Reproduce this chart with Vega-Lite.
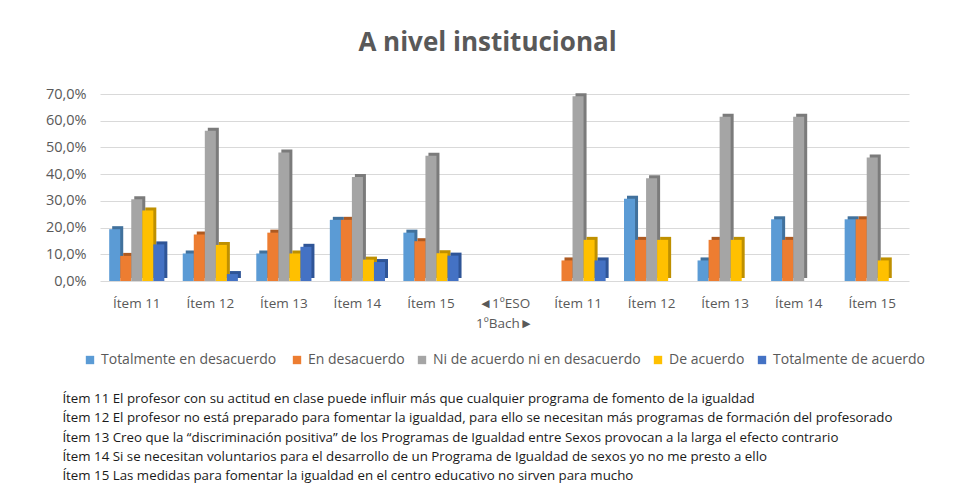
{
  "$schema": "https://vega.github.io/schema/vega-lite/v6.json",
  "background": "white",
  "padding": {"left": 45, "top": 30, "right": 5, "bottom": 5},
  "config": {
    "locale": {"number": {"decimal": ",", "thousands": ".", "grouping": [3], "currency": ["", " €"]}},
    "view": {"stroke": null},
    "font": "Open Sans",
    "legend": {"layout": {"bottom": {"anchor": "middle"}}}
  },
  "title": {
    "text": [
      "Ítem 11  El profesor con su actitud en clase puede influir más que cualquier programa de fomento de la igualdad",
      "Ítem 12  El profesor no está preparado para fomentar la igualdad, para ello se necesitan más programas de formación del profesorado",
      "Ítem 13  Creo que la “discriminación positiva” de los Programas de Igualdad entre Sexos  provocan a la larga el efecto contrario",
      "Ítem 14  Si se necesitan voluntarios para el desarrollo de un Programa de Igualdad de sexos yo no me presto a ello",
      "Ítem 15  Las medidas para fomentar la igualdad en el centro educativo no sirven para mucho"
    ],
    "orient": "bottom",
    "anchor": "start",
    "fontSize": 13.3,
    "fontWeight": "normal",
    "color": "#1a1a1a",
    "lineHeight": 19.3,
    "offset": 25,
    "dx": 17
  },
  "vconcat": [
    {
      "width": 809,
      "height": 187,
      "title": {
        "text": "A nivel institucional",
        "fontSize": 26,
        "fontWeight": "bold",
        "color": "#595959",
        "anchor": "middle",
        "offset": 30,
        "dx": -17
      },
      "data": {
        "values": [
          {"pos": "E11", "resp": "Totalmente  en desacuerdo", "val": 0.194},
          {"pos": "E11", "resp": "En desacuerdo", "val": 0.094},
          {"pos": "E11", "resp": "Ni de acuerdo ni en desacuerdo", "val": 0.306},
          {"pos": "E11", "resp": "De acuerdo", "val": 0.264},
          {"pos": "E11", "resp": "Totalmente de acuerdo", "val": 0.137},
          {"pos": "E12", "resp": "Totalmente  en desacuerdo", "val": 0.103},
          {"pos": "E12", "resp": "En desacuerdo", "val": 0.174},
          {"pos": "E12", "resp": "Ni de acuerdo ni en desacuerdo", "val": 0.562},
          {"pos": "E12", "resp": "De acuerdo", "val": 0.135},
          {"pos": "E12", "resp": "Totalmente de acuerdo", "val": 0.026},
          {"pos": "E13", "resp": "Totalmente  en desacuerdo", "val": 0.103},
          {"pos": "E13", "resp": "En desacuerdo", "val": 0.181},
          {"pos": "E13", "resp": "Ni de acuerdo ni en desacuerdo", "val": 0.481},
          {"pos": "E13", "resp": "De acuerdo", "val": 0.103},
          {"pos": "E13", "resp": "Totalmente de acuerdo", "val": 0.128},
          {"pos": "E14", "resp": "Totalmente  en desacuerdo", "val": 0.229},
          {"pos": "E14", "resp": "En desacuerdo", "val": 0.229},
          {"pos": "E14", "resp": "Ni de acuerdo ni en desacuerdo", "val": 0.389},
          {"pos": "E14", "resp": "De acuerdo", "val": 0.080},
          {"pos": "E14", "resp": "Totalmente de acuerdo", "val": 0.071},
          {"pos": "E15", "resp": "Totalmente  en desacuerdo", "val": 0.181},
          {"pos": "E15", "resp": "En desacuerdo", "val": 0.149},
          {"pos": "E15", "resp": "Ni de acuerdo ni en desacuerdo", "val": 0.469},
          {"pos": "E15", "resp": "De acuerdo", "val": 0.104},
          {"pos": "E15", "resp": "Totalmente de acuerdo", "val": 0.095},
          {"pos": "B11", "resp": "Totalmente  en desacuerdo", "val": 0.0},
          {"pos": "B11", "resp": "En desacuerdo", "val": 0.077},
          {"pos": "B11", "resp": "Ni de acuerdo ni en desacuerdo", "val": 0.692},
          {"pos": "B11", "resp": "De acuerdo", "val": 0.154},
          {"pos": "B11", "resp": "Totalmente de acuerdo", "val": 0.077},
          {"pos": "B12", "resp": "Totalmente  en desacuerdo", "val": 0.308},
          {"pos": "B12", "resp": "En desacuerdo", "val": 0.154},
          {"pos": "B12", "resp": "Ni de acuerdo ni en desacuerdo", "val": 0.385},
          {"pos": "B12", "resp": "De acuerdo", "val": 0.154},
          {"pos": "B12", "resp": "Totalmente de acuerdo", "val": 0.0},
          {"pos": "B13", "resp": "Totalmente  en desacuerdo", "val": 0.077},
          {"pos": "B13", "resp": "En desacuerdo", "val": 0.154},
          {"pos": "B13", "resp": "Ni de acuerdo ni en desacuerdo", "val": 0.615},
          {"pos": "B13", "resp": "De acuerdo", "val": 0.154},
          {"pos": "B13", "resp": "Totalmente de acuerdo", "val": 0.0},
          {"pos": "B14", "resp": "Totalmente  en desacuerdo", "val": 0.231},
          {"pos": "B14", "resp": "En desacuerdo", "val": 0.154},
          {"pos": "B14", "resp": "Ni de acuerdo ni en desacuerdo", "val": 0.615},
          {"pos": "B14", "resp": "De acuerdo", "val": 0.0},
          {"pos": "B14", "resp": "Totalmente de acuerdo", "val": 0.0},
          {"pos": "B15", "resp": "Totalmente  en desacuerdo", "val": 0.231},
          {"pos": "B15", "resp": "En desacuerdo", "val": 0.231},
          {"pos": "B15", "resp": "Ni de acuerdo ni en desacuerdo", "val": 0.462},
          {"pos": "B15", "resp": "De acuerdo", "val": 0.077},
          {"pos": "B15", "resp": "Totalmente de acuerdo", "val": 0.0}
        ]
      },
      "encoding": {
        "x": {
          "field": "pos",
          "type": "nominal",
          "scale": {
            "domain": ["E11", "E12", "E13", "E14", "E15", "SEP", "B11", "B12", "B13", "B14", "B15"],
            "paddingInner": 0.25,
            "paddingOuter": 0.125
          },
          "axis": {
            "title": null,
            "labelExpr": "datum.value == 'SEP' ? ['◄1ºESO', '1ºBach►'] : 'Ítem ' + substring(datum.value, 1)",
            "labelAngle": 0,
            "domain": false,
            "ticks": false,
            "labelFontSize": 13.5,
            "labelColor": "#595959",
            "labelPadding": 15,
            "labelLineHeight": 20
          }
        },
        "y": {
          "field": "val",
          "type": "quantitative",
          "scale": {"domain": [0, 0.7]},
          "axis": {
            "title": null,
            "format": ".1%",
            "values": [0, 0.1, 0.2, 0.3, 0.4, 0.5, 0.6, 0.7],
            "domain": false,
            "ticks": false,
            "labelPadding": 14,
            "labelFontSize": 14.5,
            "labelColor": "#595959",
            "gridColor": "#d9d9d9"
          }
        }
      },
      "layer": [
        {
          "mark": {"type": "bar", "yOffset": -3},
          "encoding": {
            "xOffset": {
              "field": "resp",
              "type": "nominal",
              "scale": {
                "domain": ["Totalmente  en desacuerdo", "En desacuerdo", "Ni de acuerdo ni en desacuerdo", "De acuerdo", "Totalmente de acuerdo"],
                "range": [3, 58.16],
                "paddingInner": 0,
                "paddingOuter": 0
              }
            },
            "color": {
              "field": "resp",
              "type": "nominal",
              "scale": {
                "domain": ["Totalmente  en desacuerdo", "En desacuerdo", "Ni de acuerdo ni en desacuerdo", "De acuerdo", "Totalmente de acuerdo"],
                "range": ["#41719c", "#ae5a21", "#7b7b7b", "#bf9000", "#2f5597"]
              },
              "legend": null
            }
          }
        },
        {
          "mark": {"type": "bar"},
          "encoding": {
            "xOffset": {
              "field": "resp",
              "type": "nominal",
              "scale": {
                "domain": ["Totalmente  en desacuerdo", "En desacuerdo", "Ni de acuerdo ni en desacuerdo", "De acuerdo", "Totalmente de acuerdo"],
                "paddingInner": 0,
                "paddingOuter": 0
              }
            },
            "color": {
              "field": "resp",
              "type": "nominal",
              "scale": {
                "domain": ["Totalmente  en desacuerdo", "En desacuerdo", "Ni de acuerdo ni en desacuerdo", "De acuerdo", "Totalmente de acuerdo"],
                "range": ["#5b9bd5", "#ed7d31", "#a5a5a5", "#ffc000", "#4472c4"]
              },
              "legend": {
                "title": null,
                "orient": "bottom",
                "direction": "horizontal",
                "symbolType": "square",
                "symbolSize": 70,
                "symbolStrokeWidth": 0,
                "labelFontSize": 14,
                "labelLimit": 0,
                "labelColor": "#595959",
                "columnPadding": 10,
                "offset": 23
              }
            }
          }
        }
      ],
      "resolve": {"scale": {"color": "independent", "xOffset": "independent"}}
    }
  ]
}
